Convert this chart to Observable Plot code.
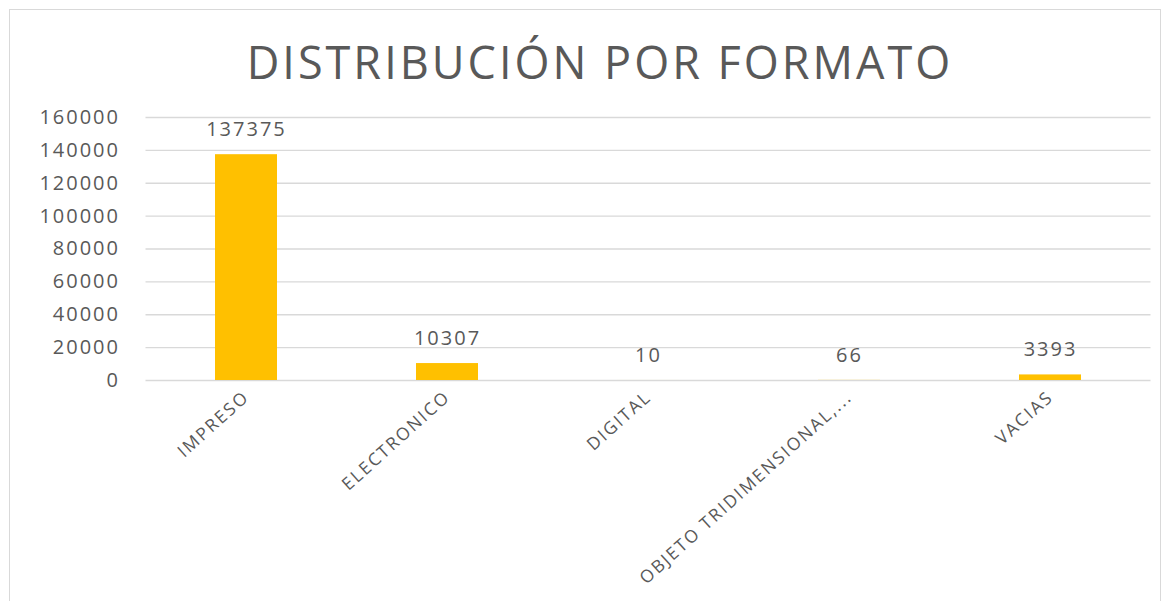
<!DOCTYPE html>
<html>
<head>
<meta charset="utf-8">
<script src="https://cdn.jsdelivr.net/npm/d3@7"></script>
<script src="https://cdn.jsdelivr.net/npm/@observablehq/plot@0.6"></script>
<style>
  html, body { margin: 0; padding: 0; background: #fff; }
  #wrap { position: relative; width: 1170px; height: 601px; overflow: hidden; }
  #frame { position: absolute; left: 9px; top: 9px; width: 1152px; height: 600px; border: 1px solid #d9d9d9; box-sizing: border-box; }
  #title { position: absolute; left: 0; top: 34px; width: 1170px; text-align: center; font-family: "Open Sans", sans-serif; font-size: 45px; letter-spacing: 3px; line-height: 56px; color: #595959; padding-left: 30px; box-sizing: border-box; }
  #chart { position: absolute; left: 0; top: 100px; }
</style>
</head>
<body>
<div id="wrap">
  <div id="frame"></div>
  <div id="title">DISTRIBUCIÓN POR FORMATO</div>
  <div id="chart"></div>
</div>
<script>
const categories = ["IMPRESO", "ELECTRONICO", "DIGITAL", "OBJETO TRIDIMENSIONAL,...", "VACIAS"];
const values = [137375, 10307, 10, 66, 3393];
const yTicks = [0, 20000, 40000, 60000, 80000, 100000, 120000, 140000, 160000];

const data = categories.map((c, i) => ({cat: c, value: values[i]}));

const chart = Plot.plot({
  width: 1170,
  height: 501,
  marginTop: 17,
  marginBottom: 221,
  marginLeft: 145.5,
  marginRight: 19.5,
  style: {fontFamily: "'Open Sans', sans-serif", color: "#595959", background: "transparent", letterSpacing: "2px"},
  x: {domain: categories, paddingInner: 0.69, paddingOuter: 0.345, label: null},
  y: {domain: [0, 160000], label: null},
  marks: [
    Plot.gridY(yTicks, {stroke: "#d9d9d9", strokeOpacity: 1, strokeWidth: 1.3}),
    Plot.barY(data, {x: "cat", y: "value", fill: "#FFC000"}),
    Plot.text(data, {x: "cat", y: "value", text: d => String(d.value), dy: -25, fontSize: 20, fill: "#595959"}),
    Plot.axisY(yTicks, {tickSize: 0, tickPadding: 26, fontSize: 20, tickFormat: d => String(d), label: null, fill: "#595959"}),
    Plot.axisX({tickSize: 0, tickRotate: -42, tickPadding: 14, fontSize: 17.5, label: null, fill: "#595959"})
  ]
});
document.getElementById("chart").appendChild(chart);
</script>
</body>
</html>
